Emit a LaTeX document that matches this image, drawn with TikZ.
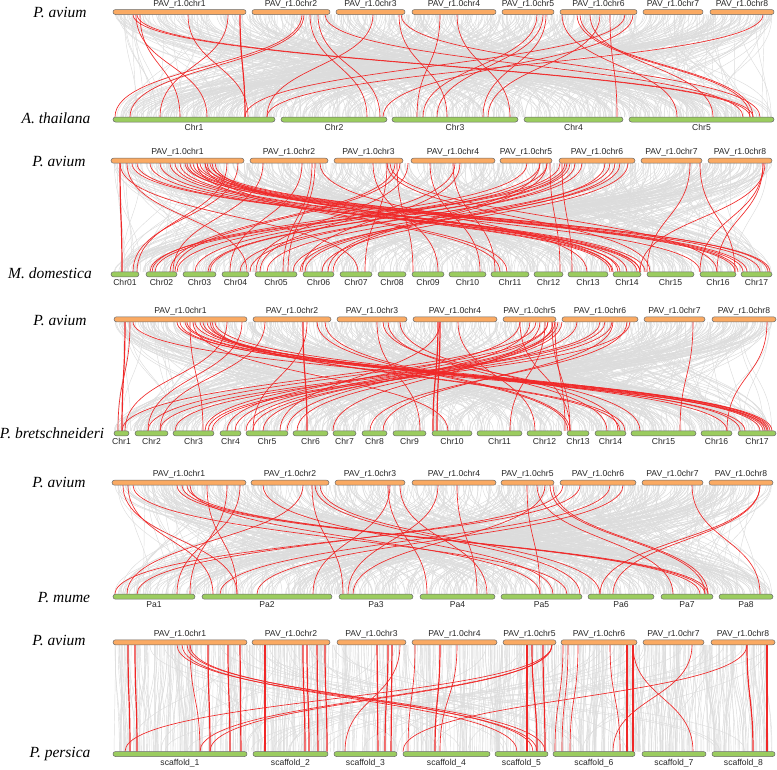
\documentclass[tikz,border=0pt]{standalone}
\usepackage{fontspec}
\setmainfont{Liberation Serif}
\setsansfont{Liberation Sans}
\usetikzlibrary{positioning,backgrounds}
\definecolor{AvOrange}{HTML}{FAAA63}
\definecolor{RelGreen}{HTML}{9BCC5F}
\definecolor{BarEdge}{HTML}{6A6A6A}
\definecolor{SynGray}{HTML}{DCDCDC}
\definecolor{SynRed}{HTML}{F02828}
\tikzset{
    % chromosome bars
    avbar/.style={
        rectangle,
        rounded corners=2.5pt,
        draw=BarEdge,
        line width=0.5pt,
        fill=AvOrange,
        minimum height=5pt,
        inner sep=0pt
    },
    relbar/.style={
        avbar,
        fill=RelGreen
    },
    chrlabel/.style={
        font=\sffamily\fontsize{8.6}{9}\selectfont,
        inner sep=0.5pt,
        text=black!85
    },
    species/.style={
        font=\itshape\fontsize{15.5}{17}\selectfont,
        inner sep=0pt,
        anchor=base
    },
    % synteny curves
    synline/.style={
        draw=SynGray,
        line width=0.45pt
    },
    redline/.style={
        draw=SynRed,
        line width=0.65pt
    },
    redstraight/.style={
        draw=SynRed,
        line width=1.2pt
    }
}
% curve between a P. avium position and a position on the other genome
\newcommand{\synlink}[5]{%
    \draw[#1] (#2,#3) .. controls (#2,{(#3+#5)/2}) and (#4,{(#3+#5)/2}) .. (#4,#5);}

\begin{document}
\begin{tikzpicture}[x=1pt, y=1pt]
        \useasboundingbox (0,0) rectangle (777,-769);
        \pgfmathsetseed{2023}

        % Species names
        \node[species] (sp1a) at (60,-17) {P. avium};
        \node[species] (sp1b) at (56,-123) {A. thailana};
        \node[species] (sp2a) at (59,-166) {P. avium};
        \node[species] (sp2b) at (50,-278) {M. domestica};
        \node[species] (sp3a) at (60,-325) {P. avium};
        \node[species] (sp3b) at (52,-438) {P. bretschneideri};
        \node[species] (sp4a) at (59,-487) {P. avium};
        \node[species] (sp4b) at (64,-602) {P. mume};
        \node[species] (sp5a) at (59,-645) {P. avium};
        \node[species] (sp5b) at (60,-757) {P. persica};

        % P. avium bars (top of each panel)
        \foreach \n/\l/\r in {1/113/246, 2/252/330, 3/336/405, 4/412/496, 5/502/554, 6/560/637, 7/643/703, 8/710/774} {
            \pgfmathsetmacro\w{\r-\l}
            \node[avbar, minimum width=\w pt] (t1\n) at ({(\l+\r)/2},-12) {};
            \node[chrlabel, above=0.6pt of t1\n] {PAV\_r1.0chr\n};
        }
        \foreach \n/\l/\r in {1/111/244, 2/250/328, 3/334/403, 4/411/495, 5/500/552, 6/559/635, 7/641/702, 8/708/772} {
            \pgfmathsetmacro\w{\r-\l}
            \node[avbar, minimum width=\w pt] (t2\n) at ({(\l+\r)/2},-160.7) {};
            \node[chrlabel, above=1pt of t2\n] {PAV\_r1.0chr\n};
        }
        \foreach \n/\l/\r in {1/114/247, 2/253/331, 3/337/407, 4/413/497, 5/503/556, 6/562/638, 7/644/705, 8/712/776} {
            \pgfmathsetmacro\w{\r-\l}
            \node[avbar, minimum width=\w pt] (t3\n) at ({(\l+\r)/2},-319.3) {};
            \node[chrlabel, above=1pt of t3\n] {PAV\_r1.0chr\n};
        }
        \foreach \n/\l/\r in {1/112/246, 2/251/329, 3/335/405, 4/412/496, 5/501/554, 6/560/636, 7/642/703, 8/709/773} {
            \pgfmathsetmacro\w{\r-\l}
            \node[avbar, minimum width=\w pt] (t4\n) at ({(\l+\r)/2},-482.7) {};
            \node[chrlabel, above=1pt of t4\n] {PAV\_r1.0chr\n};
        }
        \foreach \n/\l/\r in {1/113/247, 2/252/330, 3/337/406, 4/412/497, 5/503/556, 6/561/637, 7/643/704, 8/711/775} {
            \pgfmathsetmacro\w{\r-\l}
            \node[avbar, minimum width=\w pt] (t5\n) at ({(\l+\r)/2},-642.3) {};
            \node[chrlabel, above=1pt of t5\n] {PAV\_r1.0chr\n};
        }

        % Other species bars (bottom of each panel)
        \foreach \t/\l/\r [count=\i] in {Chr1/113/275, Chr2/281/387, Chr3/392/518, Chr4/524/623, Chr5/629/774} {
            \pgfmathsetmacro\w{\r-\l}
            \node[relbar, minimum width=\w pt] (b1\i) at ({(\l+\r)/2},-119.5) {};
            \node[chrlabel, below=1.5pt of b1\i] {\t};
        }
        \foreach \t/\l/\r [count=\i] in {Chr01/111/139, Chr02/146/177, Chr03/183/216, Chr04/222/249, Chr05/255/297, Chr06/303/334, Chr07/340/372, Chr08/378/406, Chr09/412/444, Chr10/449/486, Chr11/491/529, Chr12/534/563, Chr13/568/608, Chr14/613/641, Chr15/647/694, Chr16/700/736, Chr17/741/772} {
            \pgfmathsetmacro\w{\r-\l}
            \node[relbar, minimum width=\w pt] (b2\i) at ({(\l+\r)/2},-274.3) {};
            \node[chrlabel, below=1.5pt of b2\i] {\t};
        }
        \foreach \t/\l/\r [count=\i] in {Chr1/114/129, Chr2/135/168, Chr3/173/214, Chr4/220/241, Chr5/246/288, Chr6/293/328, Chr7/333/356, Chr8/362/387, Chr9/393/426, Chr10/432/472, Chr11/477/522, Chr12/527/562, Chr13/567/589, Chr14/595/626, Chr15/631/696, Chr16/701/732, Chr17/738/776} {
            \pgfmathsetmacro\w{\r-\l}
            \node[relbar, minimum width=\w pt] (b3\i) at ({(\l+\r)/2},-433.3) {};
            \node[chrlabel, below=1.5pt of b3\i] {\t};
        }
        \foreach \t/\l/\r [count=\i] in {Pa1/113/195, Pa2/202/332, Pa3/339/413, Pa4/420/495, Pa5/501/582, Pa6/588/654, Pa7/661/713, Pa8/719/773} {
            \pgfmathsetmacro\w{\r-\l}
            \node[relbar, minimum width=\w pt] (b4\i) at ({(\l+\r)/2},-596.7) {};
            \node[chrlabel, below=1.5pt of b4\i] {\t};
        }
        \foreach \t/\l/\r [count=\i] in {scaffold\_1/113/247, scaffold\_2/253/328, scaffold\_3/334/397, scaffold\_4/403/490, scaffold\_5/495/548, scaffold\_6/553/635, scaffold\_7/642/706, scaffold\_8/712/775} {
            \pgfmathsetmacro\w{\r-\l}
            \node[relbar, minimum width=\w pt] (b5\i) at ({(\l+\r)/2},-754) {};
            \node[chrlabel, below=1.5pt of b5\i] {\t};
        }

        \begin{scope}[on background layer]
            % Gray collinear blocks
            \foreach \k in {1,...,600} {
                \pgfmathsetmacro\ga{114+658*rnd}
                \pgfmathsetmacro\gb{114+658*rnd}
                \synlink{synline}{\ga}{-14.5}{\gb}{-117}
                \pgfmathsetmacro\ga{114+658*rnd}
                \pgfmathsetmacro\gb{114+658*rnd}
                \synlink{synline}{\ga}{-163.2}{\gb}{-271.8}
                \pgfmathsetmacro\ga{114+658*rnd}
                \pgfmathsetmacro\gb{114+658*rnd}
                \synlink{synline}{\ga}{-321.8}{\gb}{-430.8}
                \pgfmathsetmacro\ga{114+658*rnd}
                \pgfmathsetmacro\gb{114+658*rnd}
                \synlink{synline}{\ga}{-485.2}{\gb}{-594.2}
                \pgfmathsetmacro\ga{114+658*rnd}
                \pgfmathsetmacro\gb{max(114,min(772,\ga+26*(rnd-0.5)))}
                \synlink{synline}{\ga}{-644.8}{\gb}{-751.5}
            }
            \foreach \k in {1,...,60} {
                \pgfmathsetmacro\ga{114+658*rnd}
                \pgfmathsetmacro\gb{114+658*rnd}
                \synlink{synline}{\ga}{-644.8}{\gb}{-751.5}
            }

            % Red duplicated gene pairs
            \foreach \a/\b in {133/750, 136/207, 137/753, 140/180, 188/248, 228/160, 302/115, 304/130, 310/367, 318/380, 325/743, 373/267, 399/447, 401/760, 440/417, 457/510, 537/423, 543/437, 546/483, 562/677, 577/750, 580/753, 610/617, 625/245, 633/383, 763/267, 590/713, 600/488}
                \synlink{redline}{\a}{-14.5}{\b}{-117};
            \foreach \a/\b in {240/245}
                \synlink{redstraight}{\a}{-14.5}{\b}{-117};
            \foreach \a/\b in {120/358, 127/247, 132/640, 137/637, 150/610, 160/613, 170/620, 175/640, 180/645, 185/735, 187/700, 190/743, 193/738, 197/747, 197/500, 200/760, 205/770, 205/507, 207/627, 210/768, 212/612, 215/618, 227/137, 238/133, 263/173, 302/230, 312/283, 315/288, 320/587, 373/438, 387/650, 387/365, 390/717, 395/170, 397/413, 400/175, 408/256, 430/480, 453/495, 455/260, 460/302, 527/152, 540/177, 540/328, 547/195, 547/333, 550/560, 560/150, 562/572, 565/155, 567/208, 570/210, 575/250, 582/240, 605/300, 610/267, 615/305, 620/293, 628/322, 690/647, 700/735, 763/717, 763/700, 765/640}
                \synlink{redline}{\a}{-163.2}{\b}{-271.8};
            \foreach \a/\b in {120/122}
                \synlink{redstraight}{\a}{-163.2}{\b}{-271.8};
            \foreach \a/\b in {130/118, 133/767, 177/763, 180/745, 185/760, 187/770, 190/203, 193/448, 195/772, 200/765, 203/740, 207/727, 210/620, 212/625, 215/768, 227/125, 242/148, 265/160, 307/253, 317/568, 325/570, 377/420, 383/640, 388/607, 400/618, 440/280, 458/535, 520/227, 520/570, 530/287, 536/122, 540/333, 545/510, 548/148, 548/205, 552/570, 553/297, 555/235, 555/565, 558/246, 562/263, 577/253, 600/160, 605/175, 612/208, 613/383, 627/370, 630/212, 693/680, 767/727}
                \synlink{redline}{\a}{-321.8}{\b}{-430.8};
            \foreach \a/\b in {125/122, 303/307, 438/433, 440/437}
                \synlink{redstraight}{\a}{-321.8}{\b}{-430.8};
            \foreach \a/\b in {123/237, 128/213, 133/567, 177/705, 182/708, 187/700, 190/540, 207/237, 227/190, 240/177, 263/553, 303/127, 312/343, 315/580, 320/600, 388/427, 390/313, 400/487, 438/348, 457/477, 527/540, 537/673, 545/353, 550/705, 553/708, 563/137, 580/115, 610/220, 623/257, 692/760, 760/600, 760/613}
                \synlink{redline}{\a}{-485.2}{\b}{-594.2};
            \foreach \a/\b in {190/200, 415/408, 457/440, 563/555, 568/562, 578/570, 610/620, 552/125, 552/200, 552/210, 177/537, 182/517, 187/545, 190/533, 400/345, 633/693, 692/613, 747/403}
                \synlink{redline}{\a}{-644.8}{\b}{-751.5};
            \foreach \a/\b in {128/130, 135/137, 208/210, 228/230, 240/241, 265/265, 303/305, 307/309, 317/318, 325/327, 377/378, 388/385, 392/391, 440/435, 527/527, 532/537, 543/545, 627/627, 633/633, 747/753, 767/767}
                \synlink{redstraight}{\a}{-644.8}{\b}{-751.5};
        \end{scope}
    \end{tikzpicture}
\end{document}
